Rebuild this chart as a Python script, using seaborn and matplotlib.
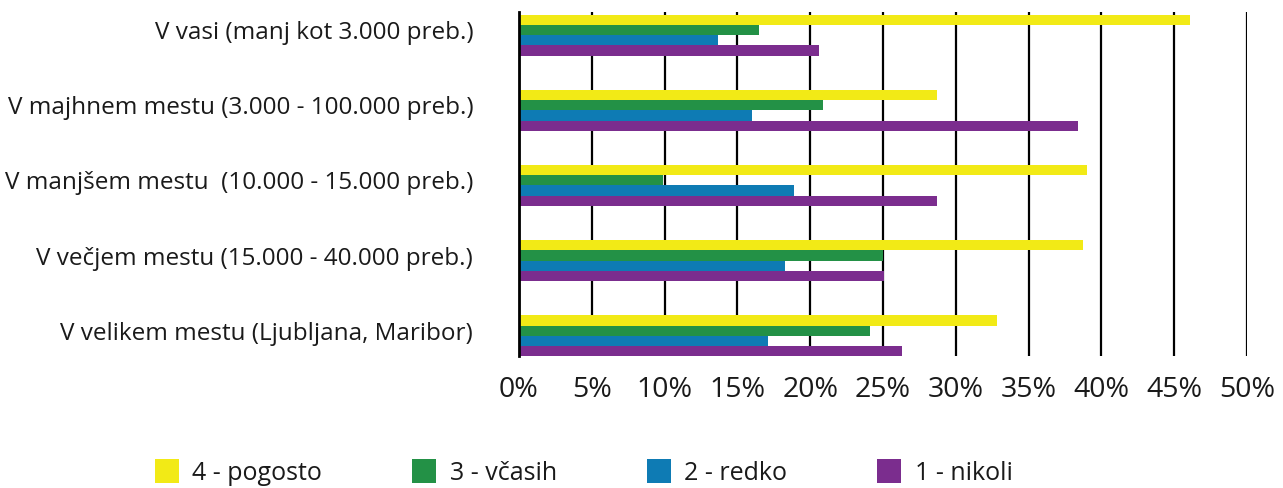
import matplotlib
matplotlib.use("Agg")
import matplotlib.pyplot as plt
import seaborn as sns
import pandas as pd
from matplotlib.patches import Patch
from matplotlib.ticker import FuncFormatter, MultipleLocator

categories = [
    "V vasi (manj kot 3.000 preb.)",
    "V majhnem mestu (3.000 - 100.000 preb.)",
    "V manjšem mestu  (10.000 - 15.000 preb.)",
    "V večjem mestu (15.000 - 40.000 preb.)",
    "V velikem mestu (Ljubljana, Maribor)",
]
series = ["4 - pogosto", "3 - včasih", "2 - redko", "1 - nikoli"]
pogosto = [46.1, 28.7, 39.0, 38.7, 32.8]
vcasih = [16.5, 20.9, 9.9, 25.0, 24.1]
redko = [13.7, 16.0, 18.9, 18.3, 17.1]
nikoli = [20.6, 38.4, 28.7, 25.1, 26.3]
colors = ["#F2EA16", "#239146", "#0E7BB4", "#7B2D8E"]

rows = []
for s, vals in zip(series, [pogosto, vcasih, redko, nikoli]):
    for c, v in zip(categories, vals):
        rows.append({"cat": c, "series": s, "value": v})
df = pd.DataFrame(rows)

sns.set_style("white")
plt.rcParams["font.family"] = ["Open Sans", "DejaVu Sans"]

fig = plt.figure(figsize=(12.83, 4.89), dpi=100)
ax = fig.add_axes([0.4045, 0.27, 0.5675, 0.7034])

sns.barplot(data=df, y="cat", x="value", hue="series", order=categories,
            hue_order=series, palette=colors, orient="h", width=0.54,
            gap=0, saturation=1, ax=ax, legend=False, edgecolor="none")

ax.set_xlim(0, 50)
ax.set_ylim(4.27, -0.31)
ax.xaxis.set_major_locator(MultipleLocator(5))
ax.xaxis.set_major_formatter(FuncFormatter(lambda v, p: f"{v:.0f}%"))
ax.grid(axis="x", color="black", linewidth=1.6)
ax.set_axisbelow(True)
ax.set_xlabel("")
ax.set_ylabel("")
for sp in ["top", "right", "bottom"]:
    ax.spines[sp].set_visible(False)
ax.spines["left"].set_color("black")
ax.spines["left"].set_linewidth(2)
ax.tick_params(axis="x", length=0, pad=14, labelsize=20.5, labelcolor="#1a1a1a")
ax.tick_params(axis="y", length=0, pad=33, labelsize=17.5, labelcolor="#1a1a1a")
for lbl in ax.get_yticklabels():
    lbl.set_va("bottom")
    lbl.set_y(lbl.get_position()[1])
ax.set_yticks(range(len(categories)))
ax.set_yticklabels(categories, va="center")
for lbl in ax.get_yticklabels():
    lbl.set_transform(lbl.get_transform() + matplotlib.transforms.ScaledTranslation(0, 3 / 100, fig.dpi_scale_trans))

handles = [Patch(facecolor=c, edgecolor="none", label=s) for c, s in zip(colors, series)]
fig.legend(handles=handles, loc="center", bbox_to_anchor=(0.455, 0.033), ncol=4,
           frameon=False, fontsize=18, handlelength=0.95, handleheight=1.1,
           columnspacing=3.6, handletextpad=0.55, labelcolor="#1a1a1a",
           borderpad=0.2)

fig.savefig("out.png", dpi=100)
